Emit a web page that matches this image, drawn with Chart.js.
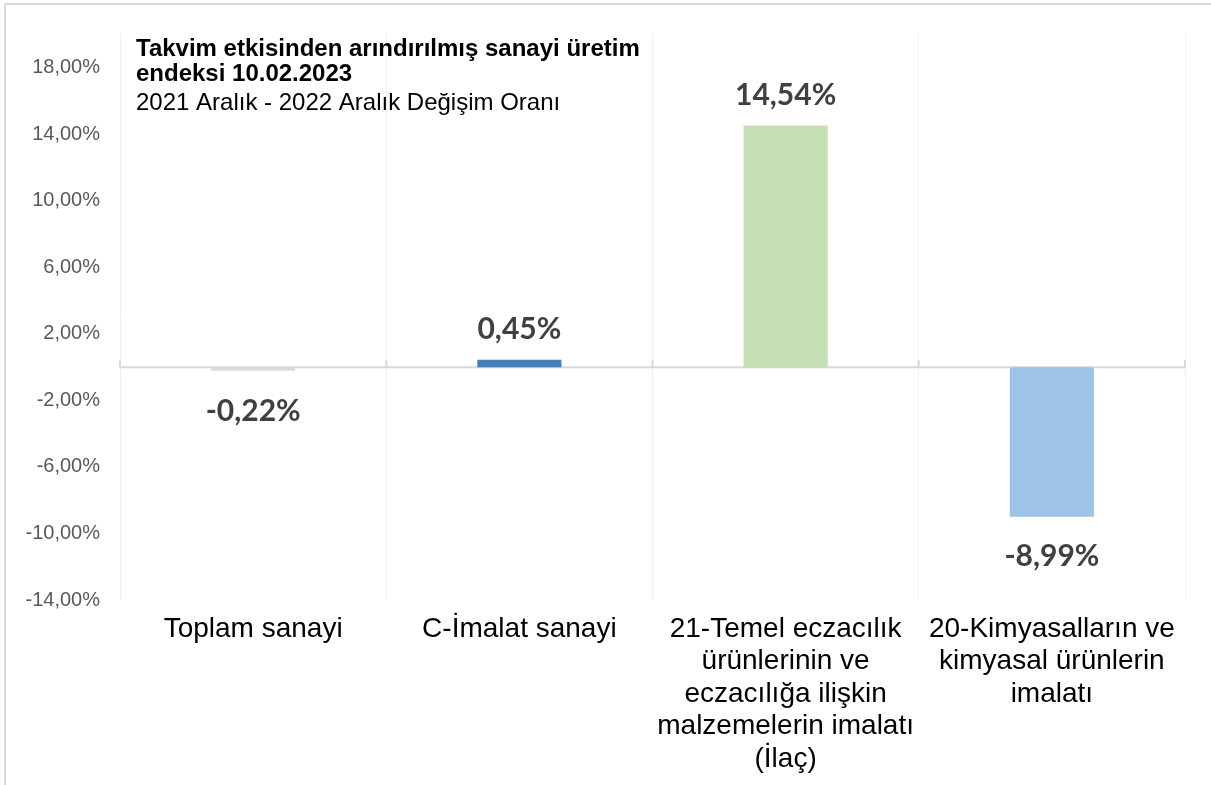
<!DOCTYPE html>
<html>
<head>
<meta charset="utf-8">
<script src="https://cdn.jsdelivr.net/npm/chart.js@4"></script>
<style>
  html, body { margin: 0; padding: 0; background: #fff; }
  #wrap { position: absolute; left: 0; top: 0; width: 1211px; height: 785px; }
  #frame { position: absolute; left: 4px; top: 3px; right: 0; bottom: 0;
           border-top: 2px solid #d9d9d9; border-left: 2px solid #d9d9d9; pointer-events: none; }
  canvas { position: absolute; left: 0; top: 0; }
</style>
</head>
<body>
<div id="wrap">
  <canvas id="sanayi" width="1211" height="785"></canvas>
  <div id="frame"></div>
</div>
<script>
// Sanayi uretim endeksi - yillik degisim
const kategoriler = [
  ['Toplam sanayi'],
  ['C-İmalat sanayi'],
  ['21-Temel eczacılık', 'ürünlerinin ve', 'eczacılığa ilişkin', 'malzemelerin imalatı', '(İlaç)'],
  ['20-Kimyasalların ve', 'kimyasal ürünlerin', 'imalatı']
];
const degisim = [-0.22, 0.45, 14.54, -8.99];
const renkler = ['#d9d9d9', '#4a7ebb', '#c5e0b4', '#9dc3e6'];
const yTicks = [-14, -10, -6, -2, 2, 6, 10, 14, 18];
const baslik = ['Takvim etkisinden arındırılmış sanayi üretim', 'endeksi 10.02.2023'];
const altBaslik = '2021 Aralık - 2022 Aralık Değişim Oranı';

const fmt = v => v.toFixed(2).replace('.', ',') + '%';

// sifir cizgisi, etiketler ve baslik
const ekstra = {
  id: 'ekstra',
  beforeDatasetsDraw(chart) {
    const c = chart.ctx, a = chart.chartArea;
    const y0 = chart.scales.y.getPixelForValue(0);
    c.save();
    c.strokeStyle = '#d9d9d9';
    c.lineWidth = 2;
    c.beginPath();
    c.moveTo(a.left, y0);
    c.lineTo(a.right, y0);
    const xs = chart.scales.x;
    const w = xs.getPixelForValue(1) - xs.getPixelForValue(0);
    for (let i = 0; i <= kategoriler.length; i++) {
      const x = xs.getPixelForValue(0) - w / 2 + i * w;
      c.moveTo(x, y0);
      c.lineTo(x, y0 - 7);
    }
    c.stroke();
    c.restore();
  },
  afterDatasetsDraw(chart) {
    const c = chart.ctx;
    c.save();
    c.fillStyle = '#404040';
    c.font = 'bold 30px Lato, "Open Sans", sans-serif';
    c.textAlign = 'center';
    c.textBaseline = 'middle';
    chart.getDatasetMeta(0).data.forEach((bar, i) => {
      const v = degisim[i];
      const y = v >= 0 ? bar.y - 30 : bar.y + 40;
      c.fillText(fmt(v), bar.x, y);
    });
    c.textAlign = 'left';
    c.textBaseline = 'alphabetic';
    c.fillStyle = '#000';
    c.font = 'bold 24px "Liberation Sans", Arial, sans-serif';
    c.fillText(baslik[0], 136, 56);
    c.fillText(baslik[1], 136, 81);
    c.font = '24px "Liberation Sans", Arial, sans-serif';
    c.fillText(altBaslik, 136, 110);
    c.restore();
  }
};

new Chart(document.getElementById('sanayi'), {
  type: 'bar',
  data: {
    labels: kategoriler,
    datasets: [{
      data: degisim,
      backgroundColor: renkler,
      borderWidth: 0,
      barPercentage: 0.316,
      categoryPercentage: 1
    }]
  },
  options: {
    responsive: false,
    animation: false,
    layout: { padding: { left: 0, top: 33, right: 26, bottom: 0 } },
    plugins: { legend: { display: false }, tooltip: { enabled: false } },
    scales: {
      x: {
        grid: { color: '#f0f0f0', lineWidth: 1, drawTicks: false, offset: true },
        border: { display: false },
        ticks: {
          color: '#000',
          padding: 13,
          maxRotation: 0,
          autoSkip: false,
          font: { family: '"Liberation Sans", Arial, sans-serif', size: 28, lineHeight: 1.16 }
        },
        afterFit(s) { s.height = 185; }
      },
      y: {
        min: -14,
        max: 20.1,
        grid: { display: false, drawTicks: false },
        border: { display: false },
        afterBuildTicks(s) { s.ticks = yTicks.map(v => ({ value: v })); },
        ticks: {
          color: '#595959',
          padding: 20,
          font: { family: '"Liberation Sans", Arial, sans-serif', size: 20 },
          callback: v => fmt(v)
        },
        afterFit(s) { s.width = 120; }
      }
    }
  },
  plugins: [ekstra]
});
</script>
</body>
</html>
